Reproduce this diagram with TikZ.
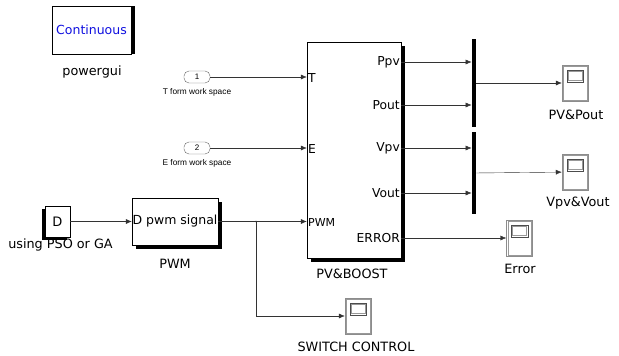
\documentclass[tikz,border=0pt]{standalone}
\usepackage{fontspec}
\setmainfont{DejaVu Sans}
\newfontfamily\arialish{Liberation Sans}
\usetikzlibrary{shadows,calc,positioning,arrows.meta}
\definecolor{azulsim}{HTML}{1010E0}

\tikzset{
  blk/.style={draw,fill=white,inner sep=0pt,font=\fontsize{12.5}{14}\selectfont},
  sombra/.style 2 args={drop shadow={shadow xshift=#1,shadow yshift=#2,opacity=1,fill=black}},
  etiq/.style={font=\fontsize{12.8}{14}\selectfont,inner sep=0pt},
  puerto/.style={font=\fontsize{12.3}{14}\selectfont,inner sep=1pt},
  senal/.style={draw=black!80,-{Latex[length=6pt,width=5pt]}},
  muxbar/.style={fill=black,minimum width=4.5pt,inner sep=0pt},
  entrada/.style={draw=black!60,rounded corners=5pt,minimum width=26pt,minimum height=12pt,inner sep=0pt,font=\arialish\fontsize{8}{9}\selectfont},
  notita/.style={font=\arialish\fontsize{8.3}{9}\selectfont,inner sep=0pt},
  osc/.style={draw=black!45,fill=white,minimum width=26pt,minimum height=36pt,inner sep=0pt}
}

\begin{document}
\begin{tikzpicture}[x=1pt,y=-1pt]
\useasboundingbox (0,0) rectangle (619,356);

% bloque powergui
\node[blk,sombra={4pt}{0pt},minimum width=79pt,minimum height=48pt,text=azulsim] (cont) at (91.5,30) {Continuous};
\node[etiq] (powergui) at (92,72) {powergui};

% entradas desde el workspace
\node[entrada] (tin) at (197,77) {1};
\node[notita,below=5pt of tin] (tlbl) {T form work space};
\node[entrada] (ein) at (197,148) {2};
\node[notita,below=5pt of ein] (elbl) {E form work space};

% constante D y generador PWM
\node[blk,sombra={-3pt}{-3pt},minimum width=25pt,minimum height=31pt,font=\fontsize{13}{14}\selectfont] (dval) at (57.5,221.5) {D};
\node[etiq] (dlbl) at (60.5,245) {using PSO or GA};
\node[blk,sombra={4pt}{-4pt},minimum width=86pt,minimum height=47pt] (pwm) at (175,221.5) {D pwm signal};
\node[etiq] (pwmlbl) at (175,264) {PWM};

% subsistema PV&BOOST
\node[blk,sombra={3.5pt}{-4pt},minimum width=94pt,minimum height=216pt] (pv) at (354,150) {};
\node[etiq] (pvlbl) at (352,274) {PV\&BOOST};
\node[puerto,anchor=west] (pT) at (307,78) {T};
\node[puerto,anchor=west] (pE) at (307,149) {E};
\node[puerto,anchor=west,font=\fontsize{11}{12}\selectfont] (pP) at (307,222) {PWM};
\node[puerto,anchor=east] (ppv) at (401,62) {Ppv};
\node[puerto,anchor=east] (pout) at (401,105) {Pout};
\node[puerto,anchor=east] (vpv) at (401,148) {Vpv};
\node[puerto,anchor=east] (vout) at (401,193) {Vout};
\node[puerto,anchor=east] (err) at (401,238) {ERROR};

% multiplexores
\node[muxbar,minimum height=88pt] (mux1) at (474,83) {};
\node[muxbar,minimum height=82pt] (mux2) at (474,173) {};

% osciloscopios
\node[osc] (sc1) at (575,83) {};
\node[etiq] (sc1lbl) at (576,115) {PV\&Pout};
\node[osc] (sc2) at (575,172) {};
\node[etiq] (sc2lbl) at (578,203) {Vpv\&Vout};
\node[osc] (scerr) at (519.5,238) {};
\node[etiq] (scerrlbl) at (520,269) {Error};
\node[osc] (scsw) at (358,316) {};
\node[etiq] (scswlbl) at (356,347) {SWITCH CONTROL};
\foreach \s in {sc1,sc2,scerr,scsw}{
  \draw[black!40] ([shift={(1.5pt,-1.5pt)}]\s.north west) rectangle ([shift={(-1.5pt,1.5pt)}]\s.south east);
  \draw[black!70] ([shift={(5pt,-5pt)}]\s.north west) rectangle ([shift={(-5pt,-17pt)}]\s.north east);
  \draw[black!40] ([shift={(6.2pt,-6.2pt)}]\s.north west) rectangle ([shift={(-6.2pt,-15.8pt)}]\s.north east);
}

% conexiones
\draw[senal] (tin) -- (tin -| pv.west);
\draw[senal] (ein) -- (ein -| pv.west);
\draw[senal] (dval) -- (pwm);
\draw[senal] (pwm) -- (pwm -| pv.west);
\coordinate (rama) at (256,221.5);
\fill[black!80] (rama) circle (0.9pt);
\draw[senal] (rama) |- (scsw);
\draw[senal] (pv.east |- ppv) -- (ppv -| mux1.west);
\draw[senal] (pv.east |- pout) -- (pout -| mux1.west);
\draw[senal] (pv.east |- vpv) -- (vpv -| mux2.west);
\draw[senal] (pv.east |- vout) -- (vout -| mux2.west);
\draw[senal] (mux1) -- (sc1);
\draw[senal] (mux2) -- (sc2);
\draw[senal] (pv.east |- err) -- (scerr);
\end{tikzpicture}
\end{document}
